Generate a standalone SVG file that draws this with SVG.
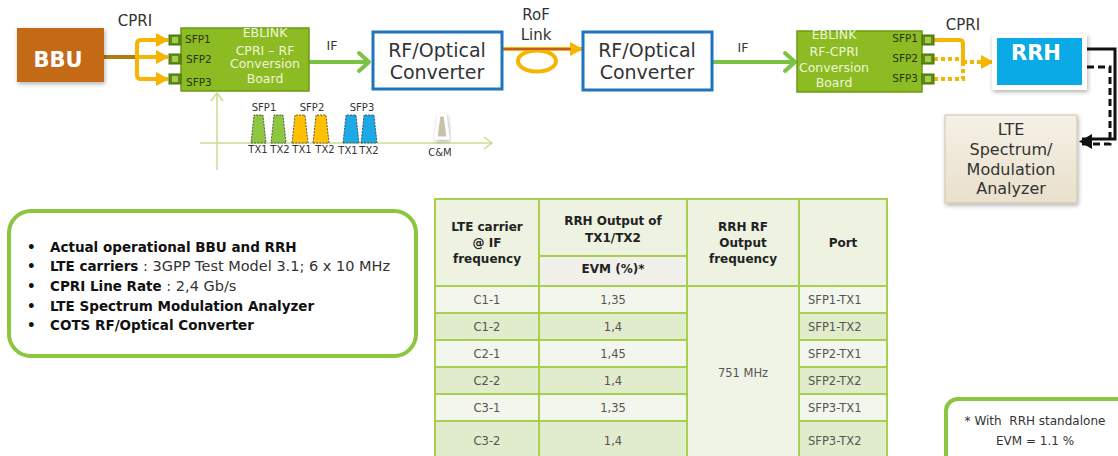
<svg xmlns="http://www.w3.org/2000/svg" width="1118" height="456" viewBox="0 0 1118 456">
  <style>
    text { font-family: "DejaVu Sans", "Liberation Sans", sans-serif; }
    .lbl { font-size: 15px; fill: #333; text-anchor: middle; }
    .iflbl { font-size: 12.5px; fill: #333; text-anchor: middle; }
    .board { fill: #8DBB24; stroke: #6B9A12; stroke-width: 1.5; }
    .boardtxt { font-size: 12.5px; fill: #EEF6D6; text-anchor: middle; }
    .sfp { font-size: 10.5px; fill: #26360A; }
    .port { fill: #5E8C14; stroke: #4A7010; stroke-width: 1; }
    .portin { fill: #A6CC4E; }
    .conv { fill: #FFFFFF; stroke: #1F74BE; stroke-width: 3; }
    .convtxt { font-size: 19px; fill: #333; text-anchor: middle; }
    .orange { fill: none; stroke: #F7B500; stroke-width: 4; }
    .dotted { fill: none; stroke: #F7B500; stroke-width: 4; stroke-dasharray: 4 3; }
    .green { fill: none; stroke: #7DC242; stroke-width: 4; }
    .blk { fill: none; stroke: #111; stroke-width: 3; }
    .blkdash { fill: none; stroke: #111; stroke-width: 3; stroke-dasharray: 7 4; }
    .axis { fill: none; stroke: #C9DB94; stroke-width: 1.5; }
    .spec { font-size: 10px; fill: #333; text-anchor: middle; }
    .trap { stroke: #3A3A3A; stroke-width: 0.8; stroke-dasharray: 2 1.2; }
    .frame { fill: #FFFFFF; stroke: #8CC63F; stroke-width: 4; }
    .bul { font-size: 13.5px; fill: #111; }
    .b { font-weight: bold; }
    .n { font-weight: normal; fill: #333; font-size: 14.5px; }
    .cellborder { stroke: #A8CF4F; stroke-width: 2; }
    .hd { font-size: 12px; font-weight: bold; fill: #222; text-anchor: middle; }
    .dt { font-size: 11.5px; fill: #555; text-anchor: middle; }
    .dtl { font-size: 11.5px; fill: #555; }
    .note { font-size: 12px; fill: #333; text-anchor: middle; }
    .ana { font-size: 16px; fill: #333; text-anchor: middle; }
  </style>
  <defs>
    <marker id="arrOrange" markerUnits="userSpaceOnUse" markerWidth="14" markerHeight="16" refX="12" refY="8" orient="auto">
      <path d="M0,1 L13,8 L0,15 Z" fill="#F7B500"/>
    </marker>
    <marker id="arrGreen" markerUnits="userSpaceOnUse" markerWidth="16" markerHeight="24" refX="13" refY="12" orient="auto">
      <path d="M3,3 L13,12 L3,21" fill="none" stroke="#7DC242" stroke-width="4" stroke-linecap="round" stroke-linejoin="round"/>
    </marker>
    <marker id="arrAxis" markerUnits="userSpaceOnUse" markerWidth="12" markerHeight="14" refX="10" refY="7" orient="auto">
      <path d="M2,1 L10,7 L2,13" fill="none" stroke="#C9DB94" stroke-width="1.5"/>
    </marker>
    <linearGradient id="anaGrad" x1="0" y1="0" x2="0" y2="1">
      <stop offset="0" stop-color="#F5F1E6"/>
      <stop offset="1" stop-color="#E9E0CC"/>
    </linearGradient>
    <filter id="shadow" x="-20%" y="-20%" width="140%" height="150%">
      <feDropShadow dx="1" dy="2" stdDeviation="2" flood-color="#000" flood-opacity="0.3"/>
    </filter>
  </defs>

  <!-- connectors -->
  <g id="connectors">
    <!-- BBU to SFP ports -->
    <path d="M104,57 H137" fill="none" stroke="#B07A10" stroke-width="4"/>
    <path class="orange" d="M137,57 V44 Q137,40 141,40 H168" marker-end="url(#arrOrange)"/>
    <path class="orange" d="M137,57 H168" marker-end="url(#arrOrange)"/>
    <path class="orange" d="M137,57 V75 Q137,79 141,79 H168" marker-end="url(#arrOrange)"/>
    <!-- IF links -->
    <path class="green" d="M309,62 H369" marker-end="url(#arrGreen)"/>
    <path class="green" d="M713,62 H795" marker-end="url(#arrGreen)"/>
    <!-- RoF link -->
    <ellipse cx="537" cy="61" rx="19" ry="10.5" fill="none" stroke="#F7B500" stroke-width="4"/>
    <path class="orange" d="M503,49 H582" marker-end="url(#arrOrange)"/>
    <path d="M503,49 H571" fill="none" stroke="#B0403A" stroke-width="1.5"/>
    <!-- SFP ports to RRH -->
    <path class="orange" d="M934,40 H960 Q963,40 963,44 V62"/>
    <path class="dotted" d="M934,59 H963"/>
    <path class="dotted" d="M934,79 H963 V62"/>
    <path class="dotted" d="M963,62 H993" marker-end="url(#arrOrange)"/>
    <!-- RRH to analyzer -->
    <path class="blk" d="M1087,49 H1115 V139 H1082"/>
    <path class="blkdash" d="M1087,67 H1110 V144 H1082"/>
    <path d="M1092,134 L1079,141.5 L1092,149 Z" fill="#111"/>
  </g>

  <!-- BBU -->
  <g id="bbu">
    <rect x="17" y="28" width="87" height="54" fill="#C46A12" filter="url(#shadow)"/>
    <text x="58" y="67" font-size="21" font-weight="bold" fill="#FFFFFF" text-anchor="middle">BBU</text>
    <text class="lbl" x="135" y="26">CPRI</text>
  </g>

  <!-- CPRI to RF conversion board -->
  <g id="board-cpri-rf">
    <rect class="board" x="181" y="28" width="128" height="63"/>
    <rect class="port" x="169" y="35" width="12" height="10"/><rect class="portin" x="172" y="37" width="6" height="6"/>
    <rect class="port" x="169" y="54" width="12" height="10"/><rect class="portin" x="172" y="56" width="6" height="6"/>
    <rect class="port" x="169" y="74" width="12" height="10"/><rect class="portin" x="172" y="76" width="6" height="6"/>
    <text class="sfp" x="185" y="43">SFP1</text>
    <text class="sfp" x="186" y="63">SFP2</text>
    <text class="sfp" x="186" y="86">SFP3</text>
    <text class="boardtxt" x="265" y="37">EBLINK</text>
    <text class="boardtxt" x="265" y="55">CPRI – RF</text>
    <text class="boardtxt" x="265" y="68">Conversion</text>
    <text class="boardtxt" x="265" y="83">Board</text>
    <text class="iflbl" x="332" y="50">IF</text>
  </g>

  <!-- RF/Optical converter (BBU side) -->
  <g id="converter-1">
    <rect class="conv" x="373" y="32" width="129" height="57"/>
    <text class="convtxt" x="437" y="57">RF/Optical</text>
    <text class="convtxt" x="437" y="79">Converter</text>
  </g>

  <!-- RoF link label -->
  <g id="rof-link">
    <text class="lbl" x="536" y="20" font-size="14">RoF</text>
    <text class="lbl" x="536" y="40" font-size="14">Link</text>
  </g>

  <!-- RF/Optical converter (RRH side) -->
  <g id="converter-2">
    <rect class="conv" x="583" y="32" width="129" height="58"/>
    <text class="convtxt" x="647" y="57">RF/Optical</text>
    <text class="convtxt" x="647" y="79">Converter</text>
    <text class="iflbl" x="743" y="52">IF</text>
  </g>

  <!-- RF to CPRI conversion board -->
  <g id="board-rf-cpri">
    <rect class="board" x="797" y="31" width="125" height="61"/>
    <rect class="port" x="922" y="35" width="12" height="10"/><rect class="portin" x="925" y="37" width="6" height="6"/>
    <rect class="port" x="922" y="54" width="12" height="10"/><rect class="portin" x="925" y="56" width="6" height="6"/>
    <rect class="port" x="922" y="74" width="12" height="10"/><rect class="portin" x="925" y="76" width="6" height="6"/>
    <text class="sfp" x="918" y="42" text-anchor="end">SFP1</text>
    <text class="sfp" x="918" y="62" text-anchor="end">SFP2</text>
    <text class="sfp" x="918" y="82" text-anchor="end">SFP3</text>
    <text class="boardtxt" x="834" y="39">EBLINK</text>
    <text class="boardtxt" x="834" y="56">RF-CPRI</text>
    <text class="boardtxt" x="834" y="72">Conversion</text>
    <text class="boardtxt" x="834" y="87">Board</text>
    <text class="lbl" x="963" y="30">CPRI</text>
  </g>

  <!-- RRH -->
  <g id="rrh">
    <rect x="992" y="34" width="95" height="56" fill="#FFFFFF" filter="url(#shadow)"/>
    <rect x="997" y="38" width="85" height="47" fill="#0AAAE6"/>
    <text x="1036" y="60" font-size="21" font-weight="bold" fill="#FFFFFF" text-anchor="middle">RRH</text>
  </g>

  <!-- LTE spectrum / modulation analyzer -->
  <g id="analyzer">
    <rect x="945" y="115" width="132" height="88" fill="url(#anaGrad)" stroke="#CFC4AA" stroke-width="1" filter="url(#shadow)"/>
    <text class="ana" x="1011" y="135">LTE</text>
    <text class="ana" x="1011" y="155">Spectrum/</text>
    <text class="ana" x="1011" y="175">Modulation</text>
    <text class="ana" x="1011" y="194">Analyzer</text>
  </g>

  <!-- IF spectrum sketch -->
  <g id="if-spectrum">
    <path class="axis" d="M217,170 V93" marker-end="url(#arrAxis)"/>
    <path class="axis" d="M200,143 H492" marker-end="url(#arrAxis)"/>
    <polygon class="trap" fill="#8DC63F" points="251,143 266,143 263,115 254,115"/>
    <polygon class="trap" fill="#8DC63F" points="271,143 286,143 283,115 274,115"/>
    <polygon class="trap" fill="#FFC000" points="292,143 308,143 305,115 295,115"/>
    <polygon class="trap" fill="#FFC000" points="313,143 329,143 326,115 316,115"/>
    <polygon class="trap" fill="#1EA8E6" points="343,143 359,143 356,115 346,115"/>
    <polygon class="trap" fill="#1EA8E6" points="361,143 377,143 374,115 364,115"/>
    <polygon points="436,138 448,138 445,115 439,115" fill="#C9C1AC" stroke="#FFFFFF" stroke-width="3" stroke-linejoin="round" filter="url(#shadow)"/>
    <text class="spec" x="264" y="111">SFP1</text>
    <text class="spec" x="312" y="111">SFP2</text>
    <text class="spec" x="362" y="111">SFP3</text>
    <text class="spec" x="258" y="153">TX1</text>
    <text class="spec" x="280" y="153">TX2</text>
    <text class="spec" x="302" y="153">TX1</text>
    <text class="spec" x="325" y="153">TX2</text>
    <text class="spec" x="348" y="154">TX1</text>
    <text class="spec" x="369" y="154">TX2</text>
    <text class="spec" x="440" y="156">C&amp;M</text>
  </g>

  <!-- test setup summary -->
  <g id="setup-list">
    <rect class="frame" x="9" y="211" width="407" height="145" rx="22"/>
    <g class="bul">
      <text x="27" y="252" class="b">•</text>
      <text x="50" y="252" class="b">Actual operational BBU and RRH</text>
      <text x="27" y="271" class="b">•</text>
      <text x="50" y="271"><tspan class="b">LTE carriers</tspan><tspan class="n"> : 3GPP Test Model 3.1; 6 x 10 MHz</tspan></text>
      <text x="27" y="291" class="b">•</text>
      <text x="50" y="291"><tspan class="b">CPRI Line Rate</tspan><tspan class="n"> : 2,4 Gb/s</tspan></text>
      <text x="27" y="311" class="b">•</text>
      <text x="50" y="311" class="b">LTE Spectrum Modulation Analyzer</text>
      <text x="27" y="330" class="b">•</text>
      <text x="50" y="330" class="b">COTS RF/Optical Converter</text>
    </g>
  </g>

  <!-- EVM results table -->
  <g id="evm-table">
    <!-- header cells -->
    <rect class="cellborder" x="435" y="199" width="104" height="87" fill="#EDF2E1"/>
    <rect class="cellborder" x="539" y="199" width="148" height="57" fill="#EDF2E1"/>
    <rect class="cellborder" x="539" y="256" width="148" height="30" fill="#F1F0EB"/>
    <rect class="cellborder" x="687" y="199" width="112" height="87" fill="#EDF2E1"/>
    <rect class="cellborder" x="799" y="199" width="88" height="87" fill="#EDF2E1"/>
    <!-- data rows -->
    <rect class="cellborder" x="435" y="286" width="104" height="27" fill="#F3F6EC"/>
    <rect class="cellborder" x="539" y="286" width="148" height="27" fill="#F3F6EC"/>
    <rect class="cellborder" x="799" y="286" width="88" height="27" fill="#F3F6EC"/>
    <rect class="cellborder" x="435" y="313" width="104" height="27" fill="#E1ECCD"/>
    <rect class="cellborder" x="539" y="313" width="148" height="27" fill="#E1ECCD"/>
    <rect class="cellborder" x="799" y="313" width="88" height="27" fill="#E1ECCD"/>
    <rect class="cellborder" x="435" y="340" width="104" height="27" fill="#F3F6EC"/>
    <rect class="cellborder" x="539" y="340" width="148" height="27" fill="#F3F6EC"/>
    <rect class="cellborder" x="799" y="340" width="88" height="27" fill="#F3F6EC"/>
    <rect class="cellborder" x="435" y="367" width="104" height="27" fill="#E1ECCD"/>
    <rect class="cellborder" x="539" y="367" width="148" height="27" fill="#E1ECCD"/>
    <rect class="cellborder" x="799" y="367" width="88" height="27" fill="#E1ECCD"/>
    <rect class="cellborder" x="435" y="394" width="104" height="27" fill="#F3F6EC"/>
    <rect class="cellborder" x="539" y="394" width="148" height="27" fill="#F3F6EC"/>
    <rect class="cellborder" x="799" y="394" width="88" height="27" fill="#F3F6EC"/>
    <rect class="cellborder" x="435" y="421" width="104" height="40" fill="#E1ECCD"/>
    <rect class="cellborder" x="539" y="421" width="148" height="40" fill="#E1ECCD"/>
    <rect class="cellborder" x="799" y="421" width="88" height="40" fill="#E1ECCD"/>
    <rect class="cellborder" x="687" y="286" width="112" height="175" fill="#F0F4E6"/>
    <!-- header text -->
    <text class="hd" x="487" y="231">LTE carrier</text>
    <text class="hd" x="487" y="247">@ IF</text>
    <text class="hd" x="487" y="263">frequency</text>
    <text class="hd" x="613" y="225">RRH Output of</text>
    <text class="hd" x="613" y="242">TX1/TX2</text>
    <text class="hd" x="613" y="273">EVM (%)*</text>
    <text class="hd" x="743" y="231">RRH RF</text>
    <text class="hd" x="743" y="247">Output</text>
    <text class="hd" x="743" y="263">frequency</text>
    <text class="hd" x="843" y="247">Port</text>
    <!-- data text -->
    <text class="dt" x="487" y="304">C1-1</text>
    <text class="dt" x="613" y="304">1,35</text>
    <text class="dtl" x="808" y="304">SFP1-TX1</text>
    <text class="dt" x="487" y="331">C1-2</text>
    <text class="dt" x="613" y="331">1,4</text>
    <text class="dtl" x="808" y="331">SFP1-TX2</text>
    <text class="dt" x="487" y="358">C2-1</text>
    <text class="dt" x="613" y="358">1,45</text>
    <text class="dtl" x="808" y="358">SFP2-TX1</text>
    <text class="dt" x="487" y="385">C2-2</text>
    <text class="dt" x="613" y="385">1,4</text>
    <text class="dtl" x="808" y="385">SFP2-TX2</text>
    <text class="dt" x="487" y="412">C3-1</text>
    <text class="dt" x="613" y="412">1,35</text>
    <text class="dtl" x="808" y="412">SFP3-TX1</text>
    <text class="dt" x="487" y="445">C3-2</text>
    <text class="dt" x="613" y="445">1,4</text>
    <text class="dtl" x="808" y="445">SFP3-TX2</text>
    <text class="dt" x="743" y="377">751 MHz</text>
  </g>

  <!-- standalone EVM note -->
  <g id="note">
    <rect class="frame" x="946" y="399" width="190" height="80" rx="12"/>
    <text class="note" x="1035" y="425" xml:space="preserve">* With  RRH standalone</text>
    <text class="note" x="1035" y="445">EVM = 1.1 %</text>
  </g>
</svg>
